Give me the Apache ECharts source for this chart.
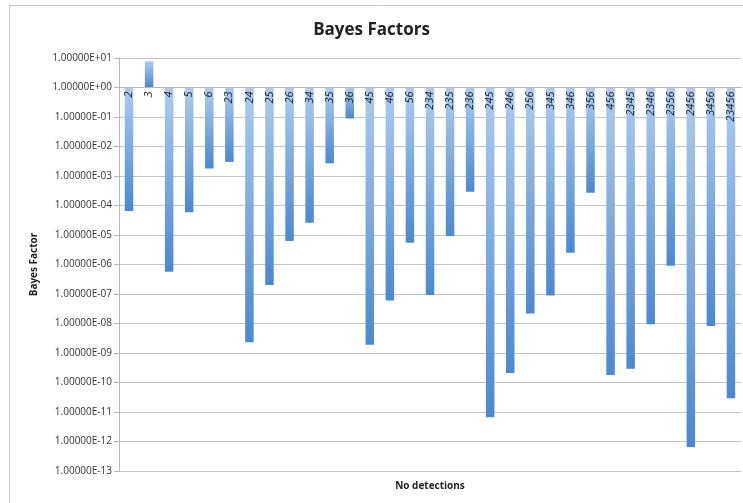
<!DOCTYPE html>
<html>
<head>
<meta charset="utf-8">
<script src="https://cdn.jsdelivr.net/npm/echarts@6/dist/echarts.min.js"></script>
<style>
  html, body { margin: 0; padding: 0; background: #fff; }
  #chart { width: 743px; height: 503px; }
</style>
</head>
<body>
<div id="chart"></div>
<script>
  // detector combinations
  const categories = ['2', '3', '4', '5', '6', '23', '24', '25', '26', '34', '35', '36', '45', '46', '56',
    '234', '235', '236', '245', '246', '256', '345', '346', '356', '456',
    '2345', '2346', '2356', '2456', '3456', '23456']
  // Bayes factor per combination
  const bayesFactors = [6.5e-5, 7.8, 5.7e-7, 5.9e-5, 1.8e-3, 3.0e-3, 2.3e-9, 2.0e-7, 6.3e-6, 2.6e-5, 2.7e-3, 8.9e-2,
    1.9e-9, 6.0e-8, 5.5e-6, 9.3e-8, 9.3e-6, 2.9e-4, 6.7e-12, 2.1e-10, 2.2e-8, 8.9e-8, 2.5e-6, 2.7e-4,
    1.8e-10, 2.9e-10, 9.5e-9, 9.1e-7, 6.5e-13, 8.3e-9, 2.9e-11]
  const yMin = 1e-13
  const yMax = 10

  const chart = echarts.init(document.getElementById('chart'))

  // 1.00000E+01 style labels
  function sci(v) {
    const e = Math.round(Math.log10(v))
    const a = Math.abs(e)
    return '1.00000E' + (e < 0 ? '-' : '+') + (a < 10 ? '0' + a : '' + a)
  }

  const option = {
    backgroundColor: '#fff',
    animation: false,
    title: {
      text: 'Bayes Factors',
      left: 'center',
      top: 17,
      textStyle: { fontFamily: 'Open Sans', fontSize: 17, fontWeight: 'bold', color: '#222' }
    },
    graphic: [{
      type: 'rect',
      left: 7,
      top: 3,
      silent: true,
      shape: { width: 800, height: 600 },
      style: { fill: 'none', stroke: '#c8c8c8', lineWidth: 1 }
    }],
    grid: { left: 119, right: 2, top: 58, bottom: 32 },
    xAxis: [
      {
        type: 'category',
        data: categories,
        position: 'top',
        offset: -29.5, // sits on the 1.0 line
        z: 10,
        axisLine: { lineStyle: { color: '#b8b8b8' } },
        axisTick: { inside: true, length: 3, lineStyle: { color: '#b8b8b8' } },
        axisLabel: {
          inside: true,
          rotate: -90,
          margin: 4,
          align: 'right',
          verticalAlign: 'middle',
          fontFamily: 'Open Sans',
          fontStyle: 'italic',
          fontSize: 11,
          color: '#222'
        }
      },
      {
        type: 'category',
        data: categories,
        position: 'bottom',
        axisLine: { show: false },
        axisTick: { show: false },
        axisLabel: { show: false },
        name: 'No detections',
        nameLocation: 'middle',
        nameGap: 10,
        nameTextStyle: { fontFamily: 'Open Sans', fontSize: 10, fontWeight: 'bold', color: '#222' }
      }
    ],
    yAxis: {
      type: 'log',
      logBase: 10,
      min: yMin,
      max: yMax,
      interval: 1,
      name: 'Bayes Factor',
      nameLocation: 'middle',
      nameGap: 80,
      nameTextStyle: { fontFamily: 'Open Sans', fontSize: 10, fontWeight: 'bold', color: '#222' },
      axisLine: { show: true, lineStyle: { color: '#b8b8b8' } },
      axisTick: { show: true, length: 5, lineStyle: { color: '#b8b8b8' } },
      axisLabel: {
        margin: 7,
        fontFamily: 'Open Sans',
        fontSize: 10,
        color: '#333',
        formatter: sci
      },
      splitLine: { lineStyle: { color: '#c4c4c4' } }
    },
    series: [
      {
        type: 'bar',
        xAxisIndex: 0,
        data: bayesFactors,
        barWidth: 8.5,
        itemStyle: {
          color: {
            type: 'linear', x: 0, y: 0, x2: 0, y2: 1,
            colorStops: [
              { offset: 0, color: '#aecbee' },
              { offset: 1, color: '#4a89cf' }
            ]
          }
        }
      }
    ]
  }
  chart.setOption(option)
</script>
</body>
</html>
